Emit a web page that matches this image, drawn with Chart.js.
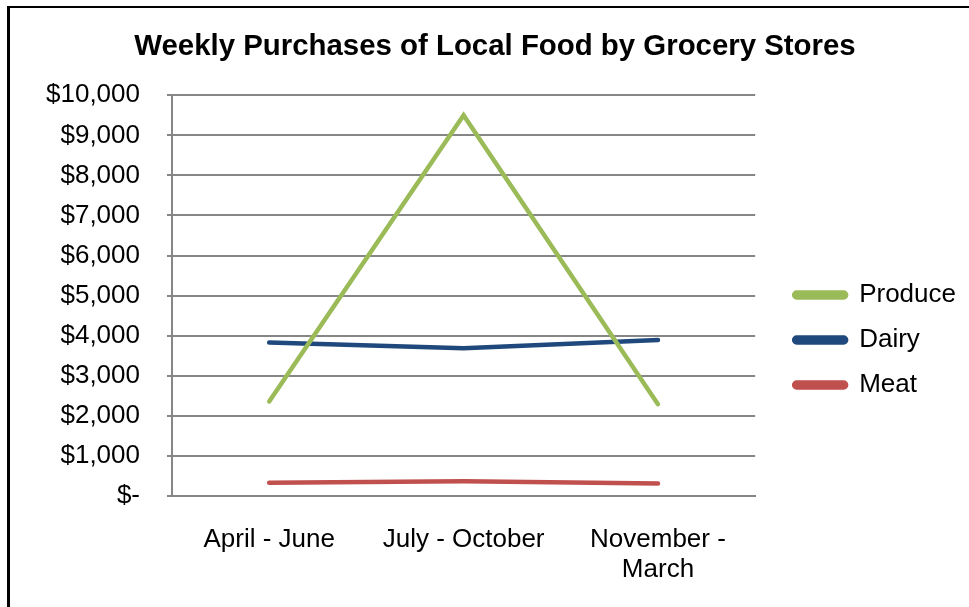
<!DOCTYPE html>
<html>
<head>
<meta charset="utf-8">
<script src="https://cdn.jsdelivr.net/npm/chart.js@4.4.1/dist/chart.umd.min.js"></script>
<style>
  html, body { margin: 0; padding: 0; background: #fff; }
  #frame {
    position: absolute; left: 0; top: 0; width: 969px; height: 607px; overflow: hidden;
  }
  /* only the top and left edges of the frame show */
  #frame .edge {
    position: absolute; left: 7px; top: 6px; width: 1000px; height: 700px;
    border-top: 2px solid #000; border-left: 3px solid #000;
  }
  #chart { position: absolute; left: 0; top: 0; }
</style>
</head>
<body>
<div id="frame">
  <div class="edge"></div>
  <canvas id="chart" width="969" height="607"></canvas>
</div>
<script>
const seasons  = [['April - June'], ['July - October'], ['November -', 'March']];
const produce  = [2360, 9500, 2290];
const dairy    = [3830, 3690, 3890];
const meat     = [330, 370, 310];
const yTicks   = [0, 1000, 2000, 3000, 4000, 5000, 6000, 7000, 8000, 9000, 10000];

const FONT = 'Arial, "Liberation Sans", sans-serif';

function money(v) {
  if (v === 0) return '$-';
  return '$' + v.toLocaleString('en-US');
}

function series(label, data, color) {
  return {
    label, data,
    borderColor: color,
    backgroundColor: color,
    borderWidth: 4.5,
    borderCapStyle: 'round',
    borderJoinStyle: 'miter',
    pointRadius: 0,
    pointHoverRadius: 0,
    tension: 0,
  };
}

// shifts the legend and title blocks after layout
const blockNudge = {
  id: 'blockNudge',
  afterLayout(chart, args, opts) {
    const lg = chart.legend;
    lg.left += opts.legendDx; lg.right += opts.legendDx;
    lg.top += opts.legendDy;  lg.bottom += opts.legendDy;
    const tb = chart.titleBlock;
    tb.left += opts.titleDx; tb.right += opts.titleDx;
  },
};

new Chart(document.getElementById('chart'), {
  type: 'line',
  data: {
    labels: seasons,
    datasets: [
      series('Produce', produce, '#9BBB59'),
      series('Dairy',   dairy,   '#1F497D'),
      series('Meat',    meat,    '#C0504D'),
    ],
  },
  plugins: [blockNudge],
  options: {
    responsive: false,
    animation: false,
    layout: { padding: { left: 10, right: 23, top: 17, bottom: 24 } },
    plugins: {
      title: {
        display: true,
        text: 'Weekly Purchases of Local Food by Grocery Stores',
        color: '#000',
        font: { family: FONT, size: 29.4, weight: 'bold', lineHeight: 1.2 },
        padding: { top: 12, bottom: 31 },
      },
      legend: {
        position: 'right',
        labels: {
          color: '#000',
          font: { family: FONT, size: 26 },
          boxWidth: 52,
          boxHeight: 5,
          useBorderRadius: true,
          borderRadius: 2.5,
          padding: 19,
        },
      },
      blockNudge: { legendDx: 20, legendDy: 40, titleDx: 17 },
      tooltip: { enabled: false },
    },
    scales: {
      x: {
        afterFit: axis => { axis.height = 87; },
        grid: { display: false, drawTicks: false },
        border: { color: '#868686', width: 2 },
        offset: true,
        ticks: {
          color: '#000',
          font: { family: FONT, size: 26, lineHeight: 1.15 },
          padding: 29,
          maxRotation: 0,
        },
      },
      y: {
        min: 0, max: 10000,
        afterBuildTicks: axis => { axis.ticks = yTicks.map(value => ({ value })); },
        afterFit: axis => { axis.width = 162; },
        grid: { color: '#868686', lineWidth: 2, drawTicks: true, tickLength: 5 },
        border: { color: '#868686', width: 2 },
        ticks: {
          color: '#000',
          font: { family: FONT, size: 26 },
          padding: 27,
          callback: v => money(v),
        },
      },
    },
  },
});
</script>
</body>
</html>
